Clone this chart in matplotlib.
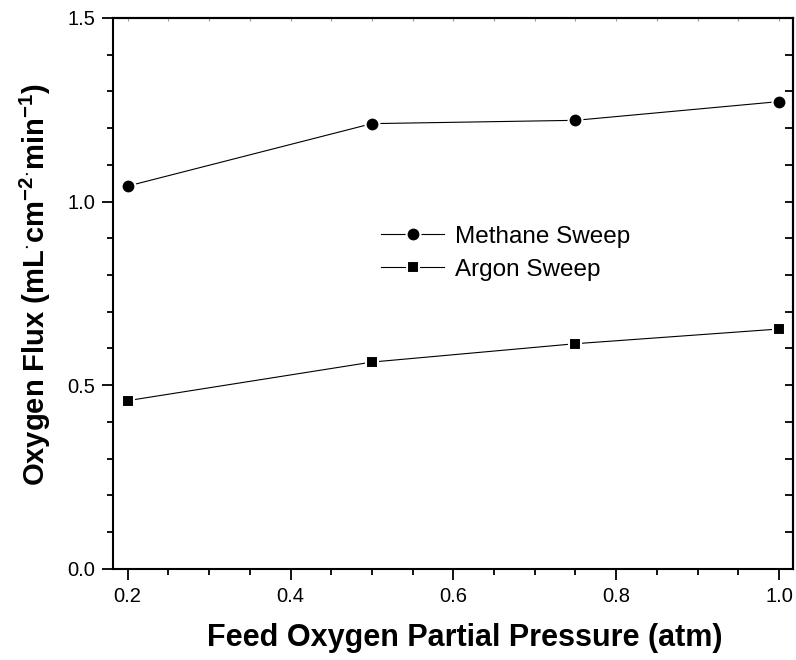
import matplotlib
matplotlib.use("Agg")
import matplotlib.pyplot as plt
from matplotlib.ticker import MultipleLocator

# data
feed_o2 = [0.2, 0.5, 0.75, 1.0]
methane_flux = [1.042, 1.212, 1.221, 1.272]
argon_flux = [0.458, 0.563, 0.613, 0.653]

plt.rcParams['font.family'] = ['Liberation Sans', 'DejaVu Sans']
plt.rcParams['mathtext.fontset'] = 'custom'
plt.rcParams['mathtext.rm'] = 'Liberation Sans:bold'
plt.rcParams['mathtext.bf'] = 'Liberation Sans:bold'
plt.rcParams['mathtext.it'] = 'Liberation Sans:bold'

fig = plt.figure(figsize=(7.96, 6.6), dpi=100)
ax = fig.add_axes([0.142, 0.138, 0.854, 0.835])

ax.plot(feed_o2, methane_flux, '-o', color='black', linewidth=0.8,
        markersize=10, markerfacecolor='black', markeredgecolor='white',
        markeredgewidth=1.5, label='Methane Sweep')
ax.plot(feed_o2, argon_flux, '-s', color='black', linewidth=0.8,
        markersize=9, markerfacecolor='black', markeredgecolor='white',
        markeredgewidth=1.5, label='Argon Sweep')

ax.set_xlim(0.182, 1.017)
ax.set_ylim(0.0, 1.5)

ax.xaxis.set_major_locator(MultipleLocator(0.2))
ax.xaxis.set_minor_locator(MultipleLocator(0.05))
ax.yaxis.set_major_locator(MultipleLocator(0.5))
ax.yaxis.set_minor_locator(MultipleLocator(0.1))

ax.tick_params(which='both', direction='out', top=False, right=False,
               labelsize=14.5, width=1.3, pad=5)
ax.tick_params(which='major', length=8)
ax.tick_params(which='minor', length=4)

# mirrored inward ticks on top and right, like the original
sec_y = ax.secondary_yaxis('right')
sec_y.yaxis.set_major_locator(MultipleLocator(0.1))
sec_y.tick_params(direction='in', length=6, width=1.3, labelright=False)
sec_x = ax.secondary_xaxis('top')
sec_x.xaxis.set_major_locator(MultipleLocator(0.05))
sec_x.tick_params(direction='in', length=2, width=0.8, colors='#999999',
                  labeltop=False)
sec_x.spines['top'].set_color('black')

for s in ax.spines.values():
    s.set_linewidth(1.5)
sec_y.spines['right'].set_linewidth(1.5)
sec_x.spines['top'].set_linewidth(1.5)

ax.set_xlabel('Feed Oxygen Partial Pressure (atm)', fontsize=22,
              fontweight='bold')
ax.xaxis.set_label_coords(0.518, -0.099)
ax.set_ylabel(r'Oxygen Flux (mL$^{\cdot}$cm$^{-2}$$^{\cdot}$min$^{-1}$)',
              fontsize=21, fontweight='bold')
ax.yaxis.set_label_coords(-0.088, 0.515)

ax.legend(loc='upper left', bbox_to_anchor=(0.38, 0.64), frameon=False,
          fontsize=17.5, handlelength=2.6, handletextpad=0.45,
          labelspacing=0.45, borderaxespad=0)

fig.savefig('out.png', dpi=100)
